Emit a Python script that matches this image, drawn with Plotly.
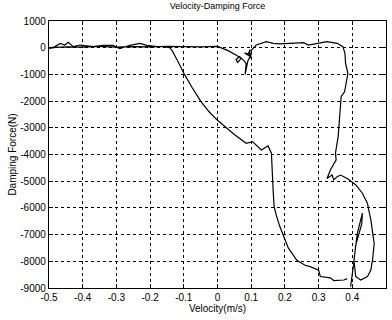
import plotly.graph_objects as go

# Hysteresis curve: velocity (m/s) vs damping force (N)
velocity = [
    0.385, 0.375, 0.345, 0.335, 0.305, 0.300, 0.275, 0.260, 0.240, 0.235, 0.210, 0.200, 0.195, 0.185,
    0.175, 0.168, 0.165, 0.162, 0.160, 0.160, 0.150, 0.130, 0.104, 0.085, 0.050, 0.025, 0.000, -0.025,
    -0.050, -0.075, -0.098, -0.120, -0.135, -0.142, -0.160,
    -0.180, -0.210, -0.230, -0.260, -0.290, -0.310, -0.340, -0.369, -0.408, -0.428, -0.443, -0.453,
    -0.467, -0.482, -0.500,
    -0.480, -0.450, -0.400, -0.350, -0.300, -0.250, -0.200, -0.150, -0.100, -0.050, 0.000, 0.030,
    0.055, 0.070, 0.060, 0.055, 0.065, 0.080, 0.085, 0.082, 0.090, 0.095, 0.100, 0.080, 0.100,
    0.092, 0.100, 0.095, 0.100,
    0.115, 0.145, 0.165, 0.185, 0.215, 0.235, 0.255, 0.270, 0.295, 0.325, 0.355, 0.372,
    0.378, 0.380, 0.387, 0.382, 0.377, 0.367, 0.365, 0.362, 0.358, 0.350, 0.352, 0.335, 0.325,
    0.340, 0.345, 0.355, 0.365, 0.385, 0.395, 0.410, 0.430, 0.445, 0.450, 0.455, 0.460, 0.465,
    0.460, 0.455, 0.445, 0.425, 0.410, 0.405, 0.415, 0.425, 0.430, 0.428, 0.420, 0.410, 0.405,
    0.400, 0.395,
]
force = [
    -8650, -8700, -8720, -8620, -8570, -8330, -8200, -8150, -8000, -7950, -7500, -7200, -7000, -6700,
    -6300, -5950, -5330, -4700, -4390, -3950, -3680, -3830, -3520, -3580, -3250, -3000, -2720, -2400,
    -2000, -1500, -1000, -450, -100, 0, 40,
    40, 90, 160, 90, -30, 90, 90, 40, 100, 40, 200, 100,
    160, 40, -30,
    10, 30, 20, 50, 20, 40, 30, 50, 40, 30, 50, -100,
    -270, -400, -550, -450, -330, -500, -600, -1000, -500, -350, -250, -200, -350,
    -150, -400, -100, -100,
    100, 225, 165, 140, 165, 190, 190, 100, 165, 225, 165, 40,
    -200, -580, -960, -1330, -1650, -1830, -2200, -2700, -3330, -3950, -4200, -4580, -4900,
    -4770, -4950, -4830, -4770, -4900, -5000, -5130, -5450, -5830, -6150, -6450, -6900, -7330,
    -7950, -8330, -8570, -8700, -8570, -7950, -6940, -6380, -6200, -6600, -7000, -7400, -8000,
    -8550, -8950,
]

x_ticks = [-0.5, -0.4, -0.3, -0.2, -0.1, 0, 0.1, 0.2, 0.3, 0.4, 0.5]
x_labels = ["-0.5", "-0.4", "-0.3", "-0.2", "-0.1", "0", "0.1", "0.2", "0.3", "0.4", "0.5"]
y_ticks = [1000, 0, -1000, -2000, -3000, -4000, -5000, -6000, -7000, -8000, -9000]
y_labels = ["1000", "0", "-1000", "-2000", "-3000", "-4000", "-5000", "-6000", "-7000", "-8000", "-9000"]

family = "Liberation Sans, Arial, sans-serif"
font = dict(family=family, size=10, color="black")

fig = go.Figure()
fig.add_trace(go.Scatter(
    x=velocity, y=force, mode="lines",
    line=dict(color="black", width=1.2),
    showlegend=False, hoverinfo="skip",
))

axis_common = dict(
    showline=True, linecolor="black", linewidth=1.3, mirror="ticks",
    ticks="inside", ticklen=4, tickcolor="black",
    showgrid=True, gridcolor="black", griddash="dot", gridwidth=1,
    zeroline=False, tickfont=font,
)

fig.update_layout(
    width=392, height=320,
    margin=dict(l=49, r=6, t=21, b=32),
    paper_bgcolor="white", plot_bgcolor="white",
    font=font,
    title=dict(text="Velocity-Damping Force", x=0.555, xanchor="center",
               y=0.982, yanchor="middle", font=dict(size=9, color="black", family=family)),
    xaxis=dict(range=[-0.5, 0.5], tickvals=x_ticks, ticktext=x_labels,
               title=dict(text="Velocity(m/s)", standoff=1, font=font), **axis_common),
    yaxis=dict(range=[-9000, 1000], tickvals=y_ticks, ticktext=y_labels,
               title=dict(text="Damping Force(N)", standoff=1, font=font), **axis_common),
)

fig.write_html("out.html")
